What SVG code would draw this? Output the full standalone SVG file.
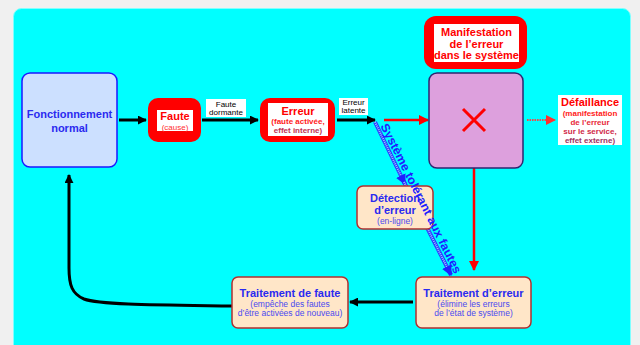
<svg xmlns="http://www.w3.org/2000/svg" width="640" height="345" viewBox="0 0 640 345">
<defs>
<style>
text{font-family:"Liberation Sans",Arial,sans-serif;text-anchor:middle}
.tb{font-weight:bold;fill:#2a2af0;font-size:11px}
.ts{fill:#4a4af0;font-size:8.5px}
.tr{font-weight:bold;fill:#ff0000;font-size:11px}
.trs{font-size:8px;font-weight:bold}
.lab{font-size:8px;fill:#000}
.orange{fill:#ffe6c8;stroke:#b03030;stroke-width:1.5}
.blk{stroke:#000;stroke-width:3;fill:none}
.red{stroke:#ff0000;stroke-width:2.5;fill:none}
</style>
<marker id="ab" viewBox="0 0 10 10" refX="9" refY="5" markerWidth="3" markerHeight="3" orient="auto" markerUnits="strokeWidth"><path d="M0,0L10,5L0,10z" fill="#000"/></marker>
<marker id="ar" viewBox="0 0 10 10" refX="9" refY="5" markerWidth="4" markerHeight="4" orient="auto" markerUnits="strokeWidth"><path d="M0,0L10,5L0,10z" fill="#ff0000"/></marker>
<marker id="ad" viewBox="0 0 10 10" refX="9" refY="5" markerWidth="5" markerHeight="5" orient="auto" markerUnits="strokeWidth"><path d="M0,0L10,5L0,10z" fill="#ff3030"/></marker>
<marker id="abl" viewBox="0 0 10 10" refX="9" refY="5" markerWidth="2.6" markerHeight="2.6" orient="auto" markerUnits="strokeWidth"><path d="M0,0L10,5L0,10z" fill="#2020ff"/></marker>
</defs>
<rect x="0" y="0" width="640" height="345" fill="#f0f0f0"/>
<rect x="13.5" y="8.5" width="617" height="350" rx="8" fill="#00ffff" stroke="#80ffff" stroke-width="1"/>

<g id="connectors">
<line class="blk" x1="119" y1="120" x2="146" y2="120" marker-end="url(#ab)"/>
<line class="blk" x1="202" y1="120" x2="258" y2="120" marker-end="url(#ab)"/>
<line class="blk" x1="337" y1="120" x2="375" y2="120" marker-end="url(#ab)"/>
<line class="red" x1="384" y1="120" x2="428" y2="120" marker-end="url(#ar)"/>
<line x1="527" y1="120" x2="555" y2="120" stroke="#ff4040" stroke-width="2" stroke-dasharray="1.5 1" marker-end="url(#ad)"/>
<line class="red" x1="474" y1="122" x2="474" y2="270" marker-end="url(#ar)"/>
<line class="blk" x1="413" y1="302" x2="350" y2="302" marker-end="url(#ab)"/>
<path class="blk" d="M232,306 C160,305 100,305 84,299 C72,294 69,285 69,268 L69,175" marker-end="url(#ab)"/>
<g id="diag">
<line x1="375" y1="122" x2="404" y2="182" stroke="#2a3aff" stroke-width="4"/>
<line x1="375" y1="122" x2="404" y2="182" stroke="#a0c0ff" stroke-width="2" stroke-dasharray="1 1"/>
<line x1="403" y1="180" x2="405" y2="184" stroke="#2020ff" stroke-width="4" marker-end="url(#abl)"/>
<line x1="404" y1="182" x2="450" y2="273" stroke="#2a3aff" stroke-width="4"/>
<line x1="404" y1="182" x2="450" y2="273" stroke="#a0c0ff" stroke-width="2" stroke-dasharray="1 1"/>
<line x1="449" y1="271" x2="451" y2="275" stroke="#2020ff" stroke-width="4" marker-end="url(#abl)"/>
</g>
</g>

<g id="fonctionnement">
<rect x="22" y="73" width="95" height="94" rx="8" fill="#cce0ff" stroke="#1a1aff" stroke-width="1.5"/>
<text class="tb" x="69.5" y="118">Fonctionnement</text>
<text class="tb" x="69.5" y="132">normal</text>
</g>

<g id="faute">
<rect x="148" y="98" width="53" height="44" rx="10" fill="#ff0000"/>
<rect x="157" y="110" width="36" height="21" fill="#fff"/>
<text class="tr" x="175" y="120">Faute</text>
<text x="175" y="130" font-size="8" fill="#ff3030">(cause)</text>
</g>

<g id="label-dormante">
<rect x="206" y="99" width="40" height="18" fill="#fff"/>
<text class="lab" x="226" y="107">Faute</text>
<text class="lab" x="226" y="115">dormante</text>
</g>

<g id="erreur">
<rect x="260" y="98" width="75" height="44" rx="10" fill="#ff0000"/>
<rect x="268" y="103" width="60" height="33" fill="#fff"/>
<text class="tr" x="298" y="115">Erreur</text>
<text class="trs" x="298" y="124" fill="#ff2020">(faute activée,</text>
<text class="trs" x="298" y="133" fill="#c03050">effet interne)</text>
</g>

<g id="label-latente">
<rect x="339" y="98" width="29" height="17" fill="#fff"/>
<text class="lab" x="353.5" y="105">Erreur</text>
<text class="lab" x="353.5" y="113">latente</text>
</g>

<g id="manifestation">
<rect x="424" y="16" width="103" height="53" rx="12" fill="#ff0000"/>
<rect x="434" y="24" width="85" height="38" fill="#fff"/>
<text class="tr" x="476.5" y="36" font-size="10.5">Manifestation</text>
<text class="tr" x="476.5" y="48" font-size="10.5">de l’erreur</text>
<text class="tr" x="476.5" y="59" font-size="10.5">dans le système</text>
</g>

<g id="systeme">
<rect x="429" y="73" width="94" height="95" rx="8" fill="#dda0dd" stroke="#2e2670" stroke-width="1.5"/>
<path d="M463,109 L485,131 M485,109 L463,131" stroke="#ff0000" stroke-width="3"/>
</g>

<g id="defaillance">
<rect x="558" y="95" width="64" height="50" fill="#fff"/>
<text class="tr" x="590" y="106">Défaillance</text>
<text class="trs" x="590" y="116" fill="#ff2020">(manifestation</text>
<text class="trs" x="590" y="125" fill="#e82838">de l’erreur</text>
<text class="trs" x="590" y="134" fill="#d02848">sur le service,</text>
<text class="trs" x="590" y="143" fill="#a03060">effet externe)</text>
</g>

<g id="detection">
<rect class="orange" x="357" y="186" width="76" height="43" rx="6"/>
<text class="tb" x="395" y="202">Détection</text>
<text class="tb" x="395" y="214">d’erreur</text>
<text class="ts" x="395" y="224">(en-ligne)</text>
</g>

<g id="traitement-erreur">
<rect class="orange" x="416" y="277" width="115" height="51" rx="6"/>
<text class="tb" x="473.5" y="297">Traitement d’erreur</text>
<text class="ts" x="473.5" y="307">(élimine les erreurs</text>
<text class="ts" x="473.5" y="316">de l’état de système)</text>
</g>

<g id="traitement-faute">
<rect class="orange" x="232" y="277" width="116" height="51" rx="6"/>
<text class="tb" x="290" y="297">Traitement de faute</text>
<text class="ts" x="290" y="307">(empêche des fautes</text>
<text class="ts" x="290" y="316">d’être activées de nouveau)</text>
</g>

<g id="label-tolerant">
<text transform="translate(375,122) rotate(63.4)" x="6" y="-3" style="text-anchor:start" font-size="12" font-weight="bold" fill="#2020ff" textLength="166" lengthAdjust="spacingAndGlyphs">Système tolérant aux fautes</text>
</g>
</svg>
